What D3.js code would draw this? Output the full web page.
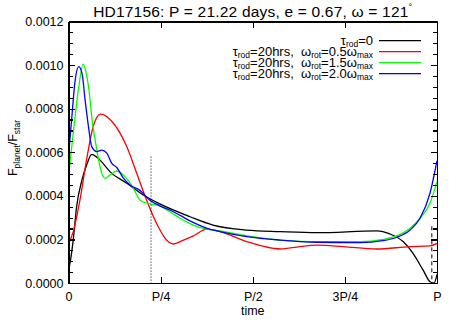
<!DOCTYPE html>
<html>
<head>
<meta charset="utf-8">
<title>HD17156 flux ratio</title>
<script src="https://d3js.org/d3.v7.min.js"></script>
<style>
    body { margin: 0; background: #fff; font-family: "Liberation Sans", Arial, sans-serif; }
    .axis path, .axis line { stroke: #000; stroke-width: 1.2; shape-rendering: crispEdges; }
    .axis text { font-size: 12.5px; fill: #000; font-family: "Liberation Sans", Arial, sans-serif; }
    .curve { fill: none; stroke-width: 1.3; }
</style>
</head>
<body>
<svg width="458" height="327"></svg>
<script>
// orbital phase (fraction of P) and flux ratio for each run
const blackT = [0, 0.004, 0.013, 0.022, 0.036, 0.049, 0.063, 0.075, 0.085, 0.113, 0.158, 0.203, 0.248, 0.33, 0.392, 0.484, 0.574, 0.674, 0.837, 0.872, 0.908, 0.935, 0.962, 0.981, 0.992, 1.0];
const blackY = [0.00006, 0.00009, 0.0002, 0.00035, 0.00047, 0.00054, 0.00059, 0.00058, 0.000565, 0.00051, 0.000458, 0.000404, 0.000363, 0.000304, 0.000266, 0.000243, 0.000236, 0.000231, 0.000239, 0.000225, 0.00019, 0.000136, 0.00006, 0.000006, 0.0, 0.00004];

const redT = [0, 0.013, 0.031, 0.049, 0.067, 0.087, 0.122, 0.158, 0.185, 0.212, 0.239, 0.266, 0.284, 0.312, 0.339, 0.375, 0.411, 0.484, 0.556, 0.574, 0.628, 0.674, 0.746, 0.836, 0.927, 0.981, 1.0];
const redY = [0.000182, 0.000236, 0.00038, 0.000565, 0.000718, 0.000775, 0.000733, 0.000626, 0.000504, 0.00038, 0.000274, 0.000197, 0.000179, 0.000197, 0.000216, 0.000247, 0.000236, 0.00019, 0.000159, 0.000156, 0.000167, 0.000174, 0.000167, 0.000156, 0.000167, 0.00017, 0.000182];

const greenT = [0, 0.013, 0.027, 0.040, 0.047, 0.056, 0.064, 0.077, 0.086, 0.099, 0.113, 0.131, 0.153, 0.176, 0.194, 0.221, 0.248, 0.275, 0.303, 0.338, 0.376, 0.411, 0.484, 0.574, 0.674, 0.791, 0.853, 0.891, 0.927, 0.954, 0.981, 1.0];
const greenY = [0.00049, 0.00069, 0.00089, 0.001004, 0.00097, 0.00088, 0.00075, 0.00061, 0.00053, 0.00048, 0.000496, 0.000514, 0.000488, 0.000435, 0.00038, 0.000363, 0.000354, 0.000327, 0.000297, 0.000266, 0.000247, 0.000239, 0.000216, 0.000197, 0.00019, 0.00019, 0.0002, 0.000216, 0.000251, 0.000297, 0.000366, 0.000465];

const blueT = [0, 0.009, 0.018, 0.028, 0.037, 0.045, 0.054, 0.063, 0.077, 0.090, 0.104, 0.117, 0.131, 0.149, 0.167, 0.194, 0.221, 0.248, 0.275, 0.303, 0.338, 0.376, 0.411, 0.484, 0.574, 0.674, 0.791, 0.853, 0.891, 0.927, 0.954, 0.981, 1.0];
const blueY = [0.000585, 0.00076, 0.00093, 0.000993, 0.00096, 0.00084, 0.00072, 0.000626, 0.000603, 0.00061, 0.000596, 0.00055, 0.00053, 0.000481, 0.00045, 0.000425, 0.00038, 0.000354, 0.000335, 0.00031, 0.000278, 0.000251, 0.000236, 0.000213, 0.000197, 0.000187, 0.000185, 0.000194, 0.00021, 0.000243, 0.000297, 0.000412, 0.00056];

const xTicks = [0, 0.25, 0.5, 0.75, 1];
const xTickLabels = ["0", "P/4", "P/2", "3P/4", "P"];
const yTicks = [0, 0.0002, 0.0004, 0.0006, 0.0008, 0.0010, 0.0012];
const dottedPhase = 0.224;   // vertical dotted marker
const dottedTop = 0.00058;
const dashedPhase = 0.986;   // vertical dashed marker near P
const dashedTop = 0.00026;

const series = [
    { t: blackT, y: blackY, color: "#000000" },
    { t: redT, y: redY, color: "#ff0000" },
    { t: greenT, y: greenY, color: "#00ff00" },
    { t: blueT, y: blueY, color: "#0000ff" }
];

const svg = d3.select("svg");
const margin = { top: 21.5, right: 21, bottom: 44, left: 68.5 },
    width = +svg.attr("width") - margin.left - margin.right,
    height = +svg.attr("height") - margin.top - margin.bottom;

const g = svg.append("g").attr("transform", "translate(" + margin.left + "," + margin.top + ")");

const x = d3.scaleLinear().domain([0, 1]).range([0, width]);
const y = d3.scaleLinear().domain([0, 0.0012]).range([height, 0]);

const minorY = d3.range(0, 0.0012 + 1e-9, 0.00005).filter(v => Math.abs(Math.round(v / 0.0002) * 0.0002 - v) > 1e-9);

// curves
const line = d3.line().x(d => x(d[0])).y(d => y(d[1])).curve(d3.curveMonotoneX);
series.forEach(s => {
    g.append("path")
        .attr("class", "curve")
        .attr("stroke", s.color)
        .attr("d", line(s.t.map((t, i) => [t, s.y[i]])));
});

// vertical markers
g.append("line")
    .attr("x1", x(dottedPhase)).attr("x2", x(dottedPhase))
    .attr("y1", y(dottedTop)).attr("y2", y(0))
    .attr("stroke", "#000").attr("stroke-width", 1).attr("stroke-dasharray", "1,2");
g.append("line")
    .attr("x1", x(dashedPhase)).attr("x2", x(dashedPhase))
    .attr("y1", y(dashedTop)).attr("y2", y(0))
    .attr("stroke", "#000").attr("stroke-width", 1).attr("stroke-dasharray", "4,3");

// axes (ticks point inward)
g.append("g").attr("class", "axis")
    .attr("transform", "translate(0," + height + ")")
    .call(d3.axisBottom(x).tickValues(xTicks).tickFormat((d, i) => xTickLabels[i])
        .tickSizeInner(-6).tickSizeOuter(0).tickPadding(9));
g.append("g").attr("class", "axis")
    .call(d3.axisTop(x).tickValues(xTicks).tickFormat("").tickSizeInner(-6).tickSizeOuter(0));
g.append("g").attr("class", "axis")
    .call(d3.axisLeft(y).tickValues(yTicks).tickFormat(d3.format(".4f"))
        .tickSizeInner(-6).tickSizeOuter(0).tickPadding(5));
g.append("g").attr("class", "axis")
    .call(d3.axisLeft(y).tickValues(minorY).tickFormat("").tickSizeInner(-4).tickSizeOuter(0))
    .select(".domain").remove();
g.append("g").attr("class", "axis")
    .attr("transform", "translate(" + width + ",0)")
    .call(d3.axisRight(y).tickValues(yTicks).tickFormat("").tickSizeInner(-6).tickSizeOuter(0));
g.append("g").attr("class", "axis")
    .attr("transform", "translate(" + width + ",0)")
    .call(d3.axisRight(y).tickValues(minorY).tickFormat("").tickSizeInner(-4).tickSizeOuter(0))
    .select(".domain").remove();

// title
const title = svg.append("text")
    .attr("x", margin.left + width / 2).attr("y", 17)
    .attr("text-anchor", "middle")
    .style("font-size", "15.5px")
    .style("letter-spacing", "0.2px");
title.append("tspan").text("HD17156: P = 21.22 days, e = 0.67, ω = 121");
title.append("tspan").attr("dy", -7).style("font-size", "9px").text("°");

// axis titles
svg.append("text")
    .attr("x", margin.left + width / 2).attr("y", 315)
    .attr("text-anchor", "middle")
    .style("font-size", "12.5px")
    .text("time");

const yl = svg.append("text")
    .attr("transform", "translate(17,148) rotate(-90)")
    .attr("text-anchor", "middle")
    .style("font-size", "12.5px");
yl.append("tspan").text("F");
yl.append("tspan").attr("dy", 3).style("font-size", "8.5px").text("planet");
yl.append("tspan").attr("dy", -3).text("/F");
yl.append("tspan").attr("dy", 3).style("font-size", "8.5px").text("star");

// legend
const legendRows = [
    { parts: [["τ", 0], ["rod", 1], ["=0", 0]], color: "#000000" },
    { parts: [["τ", 0], ["rod", 1], ["=20hrs,  ω", 0], ["rot", 1], ["=0.5ω", 0], ["max", 1]], color: "#ff0000" },
    { parts: [["τ", 0], ["rod", 1], ["=20hrs,  ω", 0], ["rot", 1], ["=1.5ω", 0], ["max", 1]], color: "#00ff00" },
    { parts: [["τ", 0], ["rod", 1], ["=20hrs,  ω", 0], ["rot", 1], ["=2.0ω", 0], ["max", 1]], color: "#0000ff" }
];
legendRows.forEach((row, i) => {
    const ly = 40.7 + i * 11;
    const t = svg.append("text")
        .attr("x", 373).attr("y", ly + 4)
        .attr("text-anchor", "end")
        .attr("xml:space", "preserve")
        .style("font-size", "13px");
    let sub = 0;
    row.parts.forEach(p => {
        const dy = p[1] === sub ? 0 : (p[1] ? 2 : -2);
        sub = p[1];
        t.append("tspan").attr("dy", dy).style("font-size", p[1] ? "8.5px" : "13px").text(p[0]);
    });
    svg.append("line")
        .attr("x1", 379).attr("x2", 421)
        .attr("y1", ly).attr("y2", ly)
        .attr("stroke", row.color).attr("stroke-width", 1.3);
});
</script>
</body>
</html>
